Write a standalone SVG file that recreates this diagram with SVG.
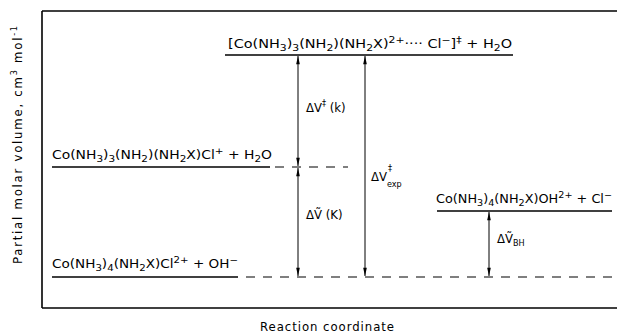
<svg xmlns="http://www.w3.org/2000/svg" width="619" height="336" viewBox="0 0 619 336">
<style>
text{font-family:"DejaVu Sans Condensed","DejaVu Sans","Liberation Sans",sans-serif;fill:#000}
.t{font-size:12px}
.l{font-size:13px}
.s{font-size:9px}
.lvl{stroke:#000;stroke-width:1.6;fill:none}
.dash{stroke:#000;stroke-width:1.2;stroke-dasharray:9,8;fill:none}
.arr{stroke:#000;stroke-width:1;fill:none;marker-start:url(#ah);marker-end:url(#ah)}
</style>
<defs>
<marker id="ah" viewBox="0 0 10 6" refX="10" refY="3" markerWidth="10" markerHeight="5" orient="auto-start-reverse" markerUnits="userSpaceOnUse">
<path d="M0,0.8 L10,3 L0,5.2 Z" fill="#000"/>
</marker>
</defs>
<g id="frame">
<path d="M42,11 V308" stroke="#000" stroke-width="1.6" fill="none"/>
<path d="M42,11 H617" stroke="#000" stroke-width="1.6" fill="none"/>
<path d="M42,308 H617" stroke="#000" stroke-width="1.6" fill="none"/>
</g>
<g id="axis-labels">
<text class="l" transform="translate(22,145) rotate(-90)" text-anchor="middle" textLength="238" lengthAdjust="spacing">Partial molar volume, cm<tspan class="s" dy="-5">3</tspan><tspan dy="5"> mol</tspan><tspan class="s" dy="-5">-1</tspan></text>
<text class="l" x="327" y="331" text-anchor="middle" textLength="134" lengthAdjust="spacing">Reaction coordinate</text>
</g>
<g id="ts">
<path class="lvl" d="M225,55 H513"/>
<text class="t" x="228" y="48" textLength="284" lengthAdjust="spacingAndGlyphs">[Co(NH<tspan class="s" dy="3">3</tspan><tspan dy="-3">)</tspan><tspan class="s" dy="3">3</tspan><tspan dy="-3">(NH</tspan><tspan class="s" dy="3">2</tspan><tspan dy="-3">)(NH</tspan><tspan class="s" dy="3">2</tspan><tspan dy="-3">X)</tspan><tspan class="s" dy="-5">2+</tspan><tspan dy="5">···· Cl</tspan><tspan class="s" dy="-5">−</tspan><tspan dy="5">]</tspan><tspan class="s" dy="-5">‡</tspan><tspan dy="5"> + H</tspan><tspan class="s" dy="3">2</tspan><tspan dy="-3">O</tspan></text>
</g>
<g id="intermediate">
<path class="lvl" d="M52,167 H270"/>
<path class="dash" d="M275,167 H348"/>
<text class="t" x="52" y="159" textLength="220" lengthAdjust="spacingAndGlyphs">Co(NH<tspan class="s" dy="3">3</tspan><tspan dy="-3">)</tspan><tspan class="s" dy="3">3</tspan><tspan dy="-3">(NH</tspan><tspan class="s" dy="3">2</tspan><tspan dy="-3">)(NH</tspan><tspan class="s" dy="3">2</tspan><tspan dy="-3">X)Cl</tspan><tspan class="s" dy="-5">+</tspan><tspan dy="5"> + H</tspan><tspan class="s" dy="3">2</tspan><tspan dy="-3">O</tspan></text>
</g>
<g id="reactants">
<path class="lvl" d="M52,277 H238"/>
<path class="dash" d="M246,277 H612"/>
<text class="t" x="52" y="268" textLength="186" lengthAdjust="spacingAndGlyphs">Co(NH<tspan class="s" dy="3">3</tspan><tspan dy="-3">)</tspan><tspan class="s" dy="3">4</tspan><tspan dy="-3">(NH</tspan><tspan class="s" dy="3">2</tspan><tspan dy="-3">X)Cl</tspan><tspan class="s" dy="-5">2+</tspan><tspan dy="5"> + OH</tspan><tspan class="s" dy="-5">−</tspan></text>
</g>
<g id="products">
<path class="lvl" d="M437,211 H612"/>
<text class="t" x="436" y="203" textLength="176" lengthAdjust="spacingAndGlyphs">Co(NH<tspan class="s" dy="3">3</tspan><tspan dy="-3">)</tspan><tspan class="s" dy="3">4</tspan><tspan dy="-3">(NH</tspan><tspan class="s" dy="3">2</tspan><tspan dy="-3">X)OH</tspan><tspan class="s" dy="-5">2+</tspan><tspan dy="5"> + Cl</tspan><tspan class="s" dy="-5">−</tspan></text>
</g>
<g id="connectors">
<path class="arr" d="M298,56 V166"/>
<path class="arr" d="M298,168 V276"/>
<path class="arr" d="M365,56 V276"/>
<path class="arr" d="M489,212 V276"/>
</g>
<g id="labels">
<text class="l" x="306" y="112">ΔV<tspan class="s" dy="-6">‡</tspan><tspan dy="6"> (k)</tspan></text>
<text class="l" x="306" y="219">ΔṼ (K)</text>
<text class="l" x="371" y="181">ΔV</text>
<text class="s" x="388" y="171">‡</text>
<text class="s" x="387" y="187">exp</text>
<text class="l" x="497" y="243">ΔṼ<tspan class="s" dy="3">BH</tspan></text>
</g>
</svg>
